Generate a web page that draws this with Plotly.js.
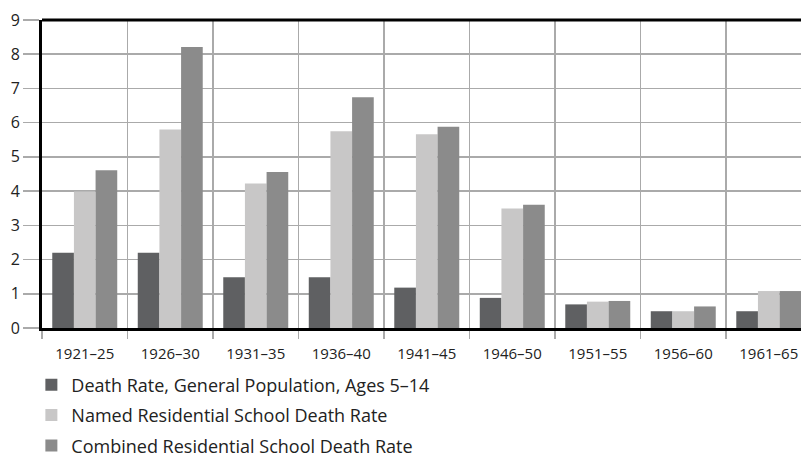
<!DOCTYPE html>
<html>
<head>
<meta charset="utf-8">
<script src="https://cdn.plot.ly/plotly-3.0.1.min.js"></script>
<style>html,body{margin:0;padding:0;background:#fff;}#chart{width:801px;height:459px;}</style>
</head>
<body>
<div id="chart"></div>
<script>
const categories = ["1921–25","1926–30","1931–35","1936–40","1941–45","1946–50","1951–55","1956–60","1961–65"];
const generalPopulation = [2.2, 2.2, 1.48, 1.48, 1.18, 0.88, 0.69, 0.49, 0.49];
const namedSchool = [3.99, 5.8, 4.22, 5.75, 5.66, 3.49, 0.77, 0.49, 1.08];
const combinedSchool = [4.61, 8.21, 4.56, 6.74, 5.88, 3.6, 0.79, 0.63, 1.08];
const seriesNames = ["Death Rate, General Population, Ages 5–14","Named Residential School Death Rate","Combined Residential School Death Rate"];
const yTicks = [0,1,2,3,4,5,6,7,8,9];

const colors = ["#5f6062","#c8c7c7","#8b8b8b"];
const vals = [generalPopulation, namedSchool, combinedSchool];
const traces = vals.map((v,i)=>({
  type:"bar", x:categories, y:v, name:seriesNames[i],
  marker:{color:colors[i], line:{width:0}},
  legendgroup:"g"+i, hoverinfo:"x+y"
}));

const layout = {
  width:801, height:459,
  margin:{l:42, r:0, t:20, b:131, autoexpand:false},
  paper_bgcolor:"#fff", plot_bgcolor:"#fff",
  font:{family:"Open Sans, sans-serif", size:15, color:"#222"},
  barmode:"group", bargap:0.24, bargroupgap:0,
  xaxis:{
    type:"category", range:[-0.5, 8.377],
    tickson:"boundaries", ticks:"outside", ticklen:8, tickwidth:1.5, tickcolor:"#aaaaaa",
    showgrid:true, gridcolor:"#aaaaaa", gridwidth:1.5,
    showline:true, linecolor:"#000", linewidth:3,
    ticklabelstandoff:10,
    tickfont:{size:15, color:"#222"}, fixedrange:true
  },
  yaxis:{
    range:[0,9], tickvals:yTicks, ticks:"outside", ticklen:16, tickwidth:1.5, tickcolor:"#aaaaaa",
    showgrid:true, gridcolor:"#aaaaaa", gridwidth:1.5, zeroline:false,
    showline:true, linecolor:"#000", linewidth:3,
    tickfont:{size:16, color:"#222"}, fixedrange:true
  },
  shapes:[{type:"line", xref:"paper", yref:"paper", x0:0, x1:1, y0:1, y1:1, line:{color:"#000", width:3}}],
  legend:{
    orientation:"v", x:-0.014, xanchor:"left", y:-0.125, yanchor:"top",
    font:{size:18, color:"#222"}, tracegroupgap:4, bgcolor:"rgba(0,0,0,0)"
  },
  showlegend:true
};
Plotly.newPlot("chart", traces, layout, {displayModeBar:false, staticPlot:true});
</script>
</body>
</html>
